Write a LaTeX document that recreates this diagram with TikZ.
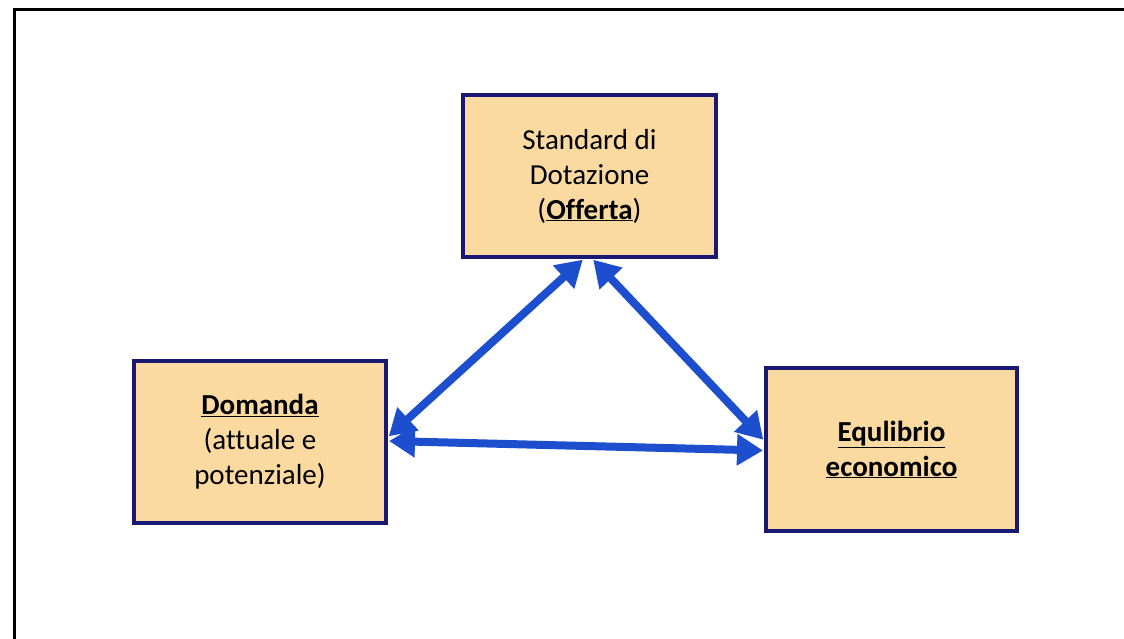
\documentclass[tikz,border=0pt]{standalone}
\usepackage{fontspec}
\setmainfont{Carlito}[Ligatures=NoCommon]
\usepackage{xcolor}
\usetikzlibrary{arrows.meta}
\definecolor{boxfill}{RGB}{250,218,160}
\definecolor{boxline}{RGB}{25,25,115}
\definecolor{arrowblue}{RGB}{28,78,205}
\begin{document}
\begin{tikzpicture}[x=1pt,y=1pt,font=\fontsize{29}{35}\selectfont,
  box/.style={draw=boxline,fill=boxfill,line width=4pt,align=center,inner sep=0pt},
  link/.style={draw=arrowblue,line width=8pt,{Triangle[length=26pt,width=30pt]}-{Triangle[length=26pt,width=30pt]},shorten <=1pt,shorten >=1pt}]
\useasboundingbox (0,0) rectangle (1124,639);
% cornice
\draw[line width=3pt] (14,0) -- (14,629) -- (1124,629);
% riquadri
\node[box,minimum width=253pt,minimum height=162pt] (off) at (589.5,463) {Standard di\\Dotazione\\(\textbf{\underline{Offerta}})};
\node[box,minimum width=252pt,minimum height=162pt] (dom) at (260,197) {\textbf{\underline{Domanda}}\\(attuale e\\potenziale)};
\node[box,minimum width=251pt,minimum height=163pt] (equ) at (891.5,189.5) {\textbf{\underline{Equlibrio}}\\\textbf{\underline{economico}}};
% frecce
\draw[link] ([yshift=5pt]dom.east) -- ([xshift=-6pt]off.south);
\draw[link] ([xshift=3pt]off.south) -- ([yshift=9pt]equ.west);
\draw[link] ([yshift=1pt]dom.east) -- ([yshift=-1pt]equ.west);
\end{tikzpicture}
\end{document}
